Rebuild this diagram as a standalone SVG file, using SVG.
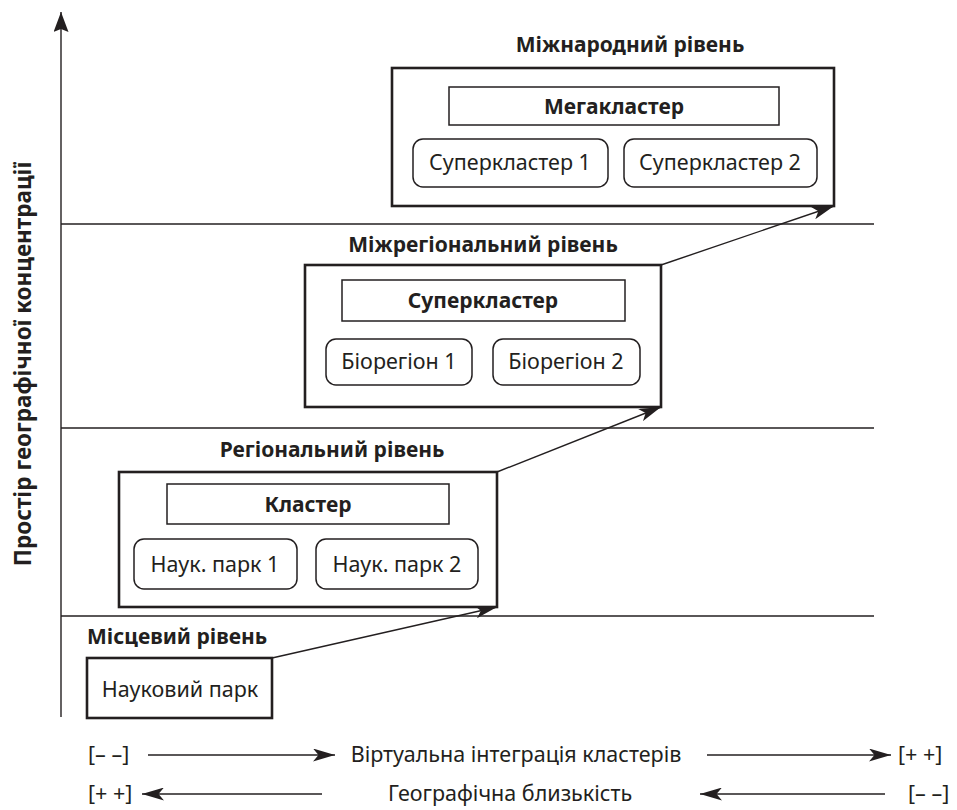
<svg xmlns="http://www.w3.org/2000/svg" width="957" height="810" viewBox="0 0 957 810">
<style>
text{font-family:"Noto Sans","Liberation Sans",sans-serif;fill:#231f20}
.t{font-size:21.5px;text-anchor:middle}
.b{font-size:21px;font-weight:bold;text-anchor:middle}
.outer{fill:#fff;stroke:#231f20;stroke-width:2.6}
.inner{fill:#fff;stroke:#231f20;stroke-width:1.5}
.ln{stroke:#231f20;stroke-width:1.4;fill:none}
</style>
<defs>
<marker id="ah" viewBox="0 0 10 10" refX="10" refY="5" markerWidth="22" markerHeight="13" markerUnits="userSpaceOnUse" orient="auto" preserveAspectRatio="none">
<path d="M0,0 L10,5 L0,10 L2.5,5 Z" fill="#231f20"/>
</marker>
<marker id="ahs" viewBox="0 0 10 10" refX="10" refY="5" markerWidth="20" markerHeight="15" markerUnits="userSpaceOnUse" orient="auto" preserveAspectRatio="none">
<path d="M0,0 L10,5 L0,10 L1.5,5 Z" fill="#231f20"/>
</marker>
</defs>
<g id="axes">
<line class="ln" x1="61" y1="717" x2="61" y2="12" marker-end="url(#ahs)"/>
<line class="ln" x1="61" y1="224" x2="874" y2="224"/>
<line class="ln" x1="61" y1="428" x2="874" y2="428"/>
<line class="ln" x1="61" y1="616" x2="874" y2="616"/>
<text class="b" transform="translate(31,364) rotate(-90)" style="font-size:22.5px">Простір географічної концентрації</text>
</g>
<g id="connectors">
<line class="ln" x1="272" y1="658" x2="497" y2="607" marker-end="url(#ah)"/>
<line class="ln" x1="497" y1="472" x2="661" y2="407" marker-end="url(#ah)"/>
<line class="ln" x1="661" y1="265" x2="834" y2="206" marker-end="url(#ah)"/>
</g>
<g id="international">
<text class="b" x="630" y="52">Міжнародний рівень</text>
<rect class="outer" x="392" y="68" width="442" height="138"/>
<rect class="inner" x="449" y="87" width="330" height="38"/>
<text class="b" x="614" y="114">Мегакластер</text>
<rect class="inner" x="413" y="139" width="195" height="48" rx="10"/>
<text class="t" x="510" y="170">Суперкластер 1</text>
<rect class="inner" x="624" y="139" width="193" height="48" rx="10"/>
<text class="t" x="720" y="170">Суперкластер 2</text>
</g>
<g id="interregional">
<text class="b" x="483" y="252">Міжрегіональний рівень</text>
<rect class="outer" x="305" y="265" width="356" height="142"/>
<rect class="inner" x="342" y="280" width="283" height="41"/>
<text class="b" x="483" y="308">Суперкластер</text>
<rect class="inner" x="326" y="339" width="146" height="46" rx="10"/>
<text class="t" x="399" y="369">Біорегіон 1</text>
<rect class="inner" x="493" y="339" width="147" height="46" rx="10"/>
<text class="t" x="566" y="369">Біорегіон 2</text>
</g>
<g id="regional">
<text class="b" x="332" y="457">Регіональний рівень</text>
<rect class="outer" x="119" y="472" width="378" height="135"/>
<rect class="inner" x="167" y="484" width="282" height="40"/>
<text class="b" x="308" y="512">Кластер</text>
<rect class="inner" x="134" y="539" width="163" height="50" rx="10"/>
<text class="t" x="215" y="572">Наук. парк 1</text>
<rect class="inner" x="316" y="539" width="162" height="50" rx="10"/>
<text class="t" x="397" y="572">Наук. парк 2</text>
</g>
<g id="local">
<text class="b" x="87" y="644" style="text-anchor:start">Місцевий рівень</text>
<rect class="outer" x="87" y="658" width="185" height="60"/>
<text class="t" x="180" y="697">Науковий парк</text>
</g>
<g id="legend">
<text class="t" x="88" y="762" style="text-anchor:start">[– –]</text>
<line class="ln" x1="148" y1="755" x2="335" y2="755" marker-end="url(#ah)"/>
<text class="t" x="516" y="762">Віртуальна інтеграція кластерів</text>
<line class="ln" x1="707" y1="755" x2="891" y2="755" marker-end="url(#ah)"/>
<text class="t" x="898" y="762" style="text-anchor:start">[+ +]</text>
<text class="t" x="88" y="801" style="text-anchor:start">[+ +]</text>
<line class="ln" x1="322" y1="794" x2="142" y2="794" marker-end="url(#ah)"/>
<text class="t" x="510" y="801">Географічна близькість</text>
<line class="ln" x1="885" y1="794" x2="700" y2="794" marker-end="url(#ah)"/>
<text class="t" x="908" y="801" style="text-anchor:start">[– –]</text>
</g>
</svg>
